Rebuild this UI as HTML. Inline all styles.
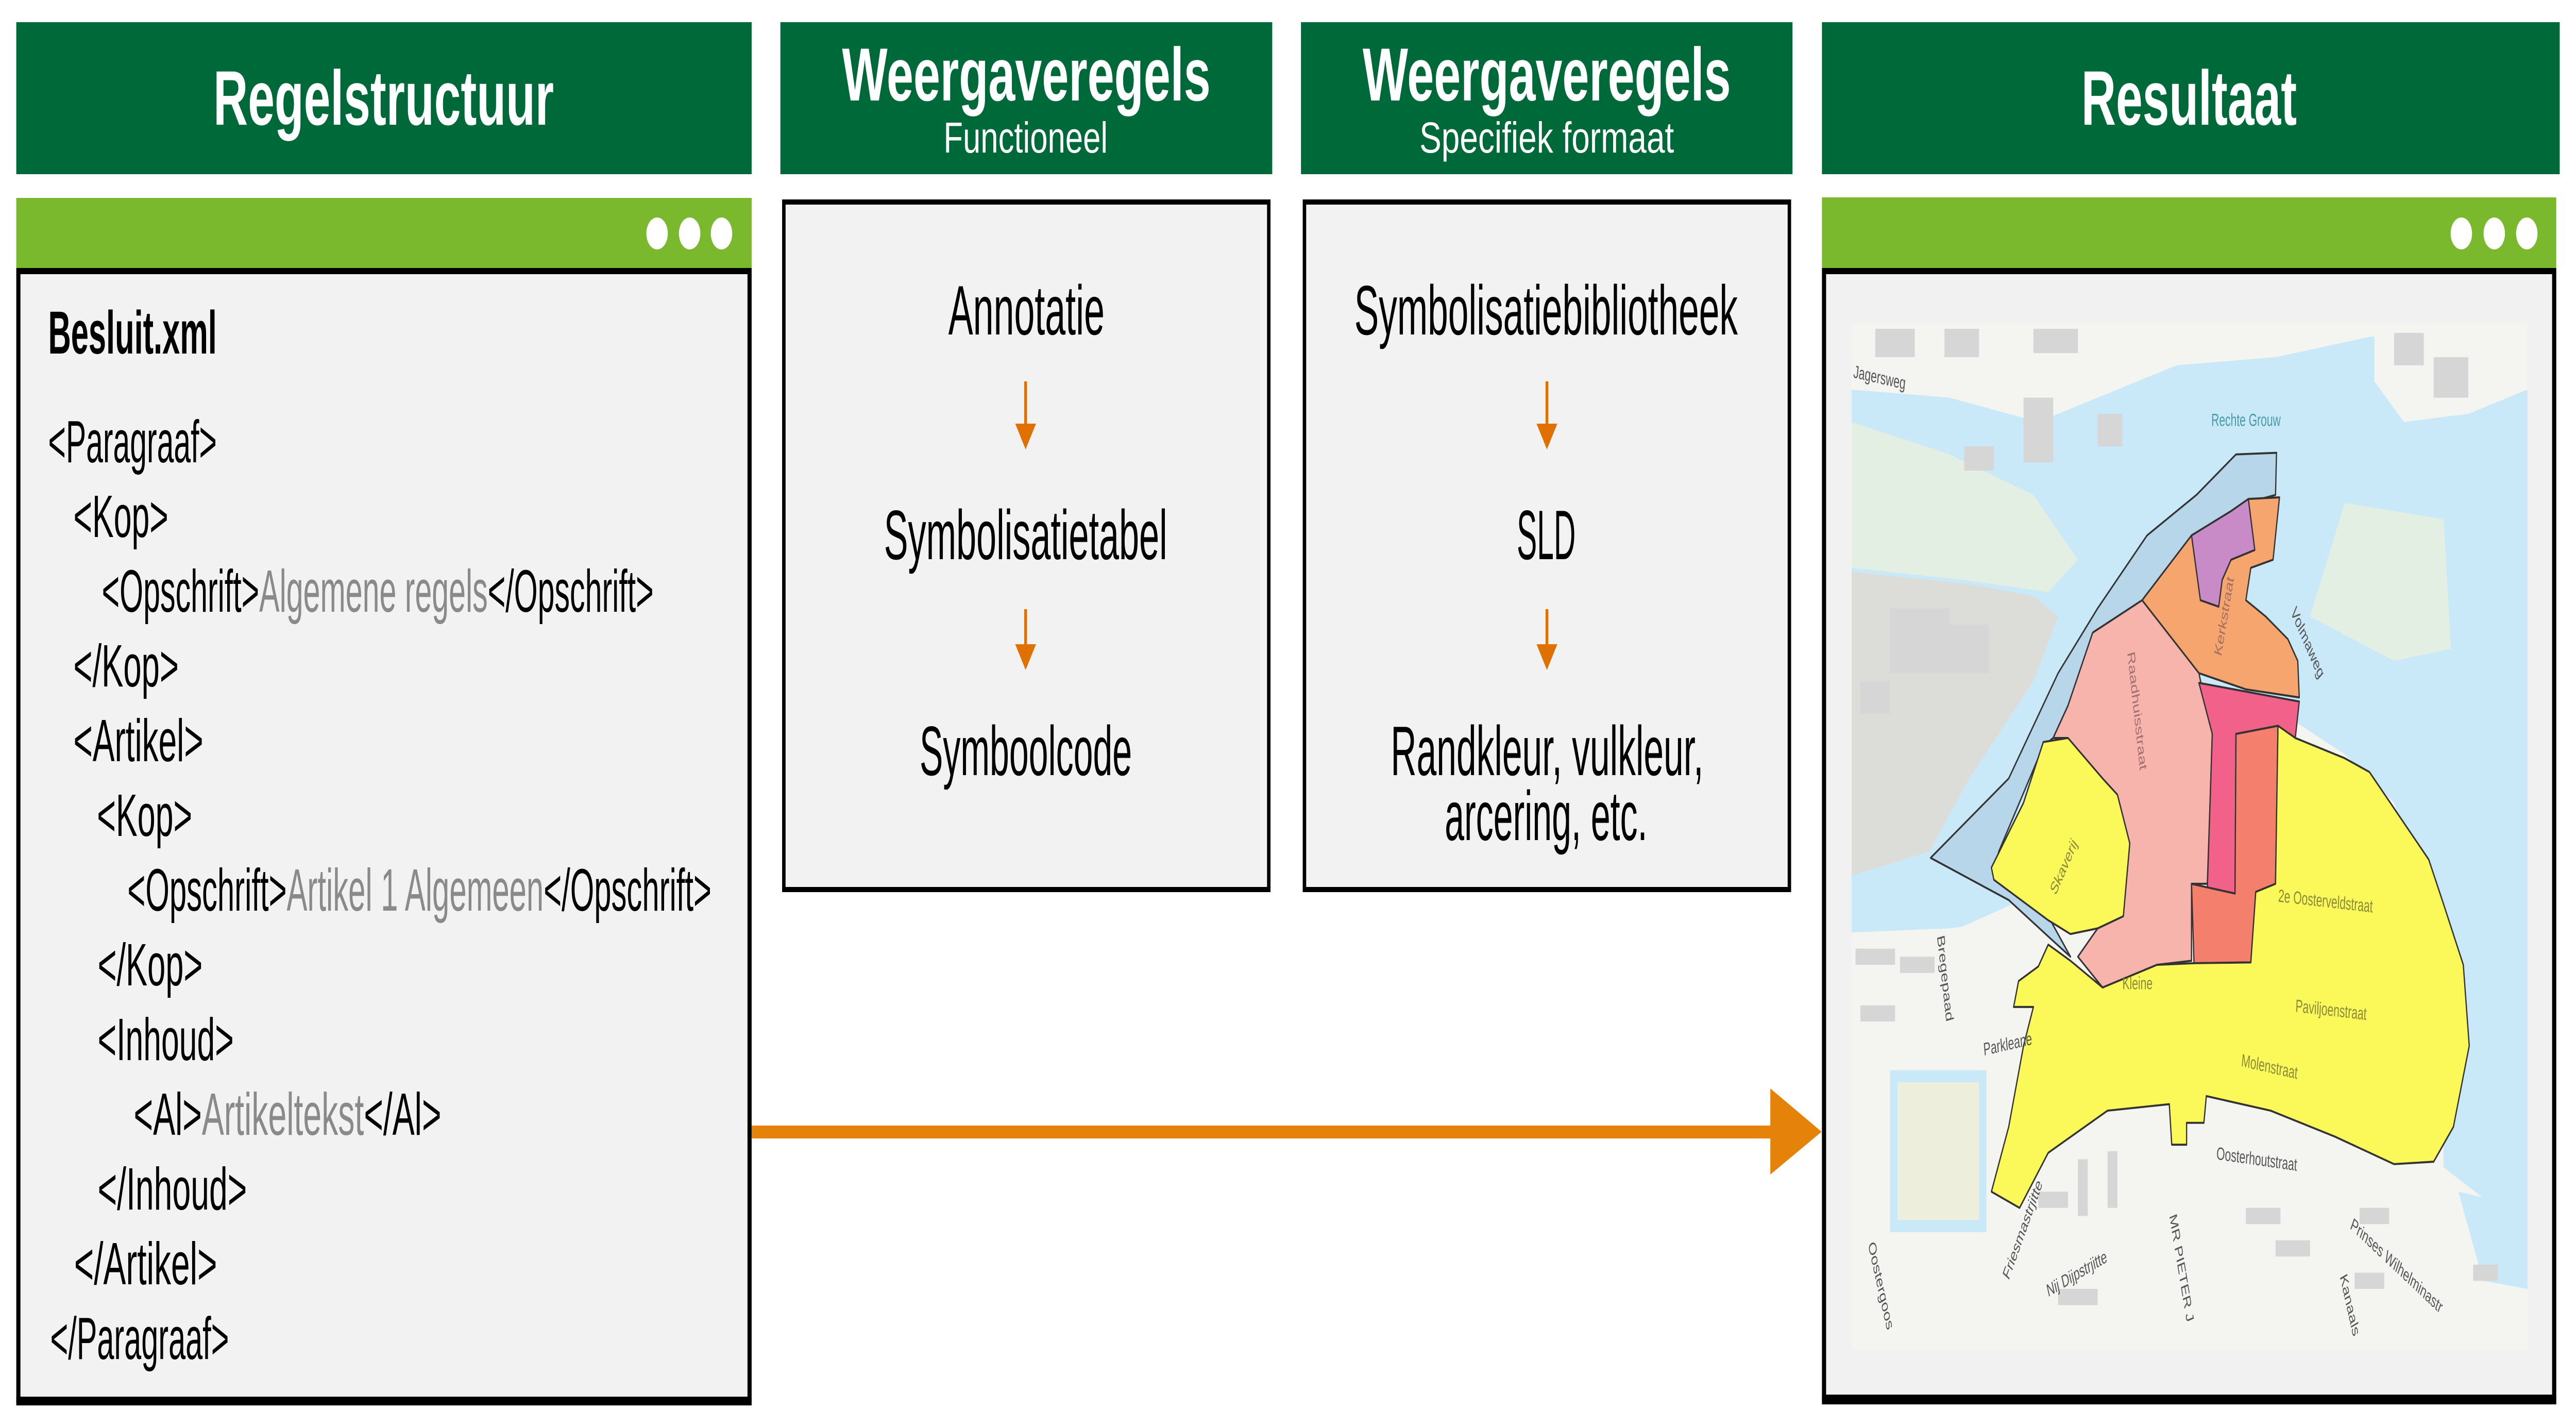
<!DOCTYPE html>
<html><head><meta charset="utf-8">
<style>
html,body{margin:0;padding:0;background:#fff;width:100%;height:100%;overflow:hidden;}
svg.root{display:block;position:absolute;left:0;top:0;width:100vw;height:100vh;}
text{font-family:"Liberation Sans",sans-serif;}
</style></head>
<body>
<svg class="root" viewBox="0 0 7437 2765" preserveAspectRatio="none" xmlns="http://www.w3.org/2000/svg" overflow="hidden">
<rect width="7437" height="2765" fill="#fff"/>

<rect x="47" y="43" width="2123" height="295" fill="#00693a"/>
<rect x="2253" y="43" width="1420" height="295" fill="#00693a"/>
<rect x="3756" y="43" width="1419" height="295" fill="#00693a"/>
<rect x="5260" y="43" width="2130" height="295" fill="#00693a"/>
<g fill="#fff" font-weight="bold">
<text x="616" y="242" font-size="150" textLength="983" lengthAdjust="spacingAndGlyphs">Regelstructuur</text>
<text x="2431" y="195" font-size="146" textLength="1064" lengthAdjust="spacingAndGlyphs">Weergaveregels</text>
<text x="3934" y="195" font-size="146" textLength="1063" lengthAdjust="spacingAndGlyphs">Weergaveregels</text>
<text x="6009" y="242" font-size="150" textLength="622" lengthAdjust="spacingAndGlyphs">Resultaat</text>
</g>
<g fill="#fff">
<text x="2724" y="296" font-size="84" textLength="474" lengthAdjust="spacingAndGlyphs">Functioneel</text>
<text x="4098" y="296" font-size="84" textLength="735" lengthAdjust="spacingAndGlyphs">Specifiek formaat</text>
</g>

<rect x="47" y="384" width="2123" height="137" fill="#7ab92d"/>
<circle cx="1897" cy="453" r="31" fill="#fff"/>
<circle cx="1991" cy="453" r="31" fill="#fff"/>
<circle cx="2083" cy="453" r="31" fill="#fff"/>
<rect x="53" y="526" width="2111" height="2190" fill="#f2f2f2" stroke="#000" stroke-width="12"/>
<rect x="47" y="2712" width="2123" height="15" fill="#000"/>

<text x="139" y="686" font-size="118" font-weight="bold" textLength="487" lengthAdjust="spacingAndGlyphs">Besluit.xml</text>
<g font-size="116" fill="#000">
<text x="139" y="897" textLength="487" lengthAdjust="spacingAndGlyphs">&lt;Paragraaf&gt;</text>
<text x="212" y="1042" textLength="274" lengthAdjust="spacingAndGlyphs">&lt;Kop&gt;</text>
<text x="294" y="1187" textLength="1593" lengthAdjust="spacingAndGlyphs">&lt;Opschrift&gt;<tspan fill="#8a8a8a">Algemene regels</tspan>&lt;/Opschrift&gt;</text>
<text x="212" y="1332" textLength="304" lengthAdjust="spacingAndGlyphs">&lt;/Kop&gt;</text>
<text x="212" y="1477" textLength="375" lengthAdjust="spacingAndGlyphs">&lt;Artikel&gt;</text>
<text x="280" y="1622" textLength="275" lengthAdjust="spacingAndGlyphs">&lt;Kop&gt;</text>
<text x="368" y="1767" textLength="1686" lengthAdjust="spacingAndGlyphs">&lt;Opschrift&gt;<tspan fill="#8a8a8a">Artikel 1 Algemeen</tspan>&lt;/Opschrift&gt;</text>
<text x="282" y="1912" textLength="303" lengthAdjust="spacingAndGlyphs">&lt;/Kop&gt;</text>
<text x="282" y="2057" textLength="393" lengthAdjust="spacingAndGlyphs">&lt;Inhoud&gt;</text>
<text x="386" y="2202" textLength="888" lengthAdjust="spacingAndGlyphs">&lt;Al&gt;<tspan fill="#8a8a8a">Artikeltekst</tspan>&lt;/Al&gt;</text>
<text x="282" y="2347" textLength="431" lengthAdjust="spacingAndGlyphs">&lt;/Inhoud&gt;</text>
<text x="214" y="2492" textLength="413" lengthAdjust="spacingAndGlyphs">&lt;/Artikel&gt;</text>
<text x="145" y="2637" textLength="516" lengthAdjust="spacingAndGlyphs">&lt;/Paragraaf&gt;</text>
</g>

<rect x="2263" y="392" width="1400" height="1334" fill="#f2f2f2" stroke="#000" stroke-width="10"/>
<rect x="3766" y="392" width="1400" height="1334" fill="#f2f2f2" stroke="#000" stroke-width="10"/>
<g font-size="136" fill="#000">
<text x="2738" y="649" textLength="451" lengthAdjust="spacingAndGlyphs">Annotatie</text>
<text x="2552" y="1085" textLength="818" lengthAdjust="spacingAndGlyphs">Symbolisatietabel</text>
<text x="2655" y="1504" textLength="613" lengthAdjust="spacingAndGlyphs">Symboolcode</text>
<text x="3910" y="649" textLength="1107" lengthAdjust="spacingAndGlyphs">Symbolisatiebibliotheek</text>
<text x="4379" y="1085" textLength="170" lengthAdjust="spacingAndGlyphs">SLD</text>
<text x="4015" y="1504" textLength="903" lengthAdjust="spacingAndGlyphs">Randkleur, vulkleur,</text>
<text x="4171" y="1630" textLength="585" lengthAdjust="spacingAndGlyphs">arcering, etc.</text>
</g>
<g fill="#e07000" stroke="#e07000">
<line x1="2961" y1="740" x2="2961" y2="830" stroke-width="8"/>
<polygon points="2931,822 2991,822 2961,872" stroke="none"/>
<line x1="2961" y1="1182" x2="2961" y2="1260" stroke-width="8"/>
<polygon points="2931,1250 2991,1250 2961,1300" stroke="none"/>
<line x1="4466" y1="740" x2="4466" y2="830" stroke-width="8"/>
<polygon points="4436,822 4496,822 4466,872" stroke="none"/>
<line x1="4466" y1="1182" x2="4466" y2="1260" stroke-width="8"/>
<polygon points="4436,1250 4496,1250 4466,1300" stroke="none"/>
</g>

<rect x="2170" y="2184" width="2945" height="25" fill="#e5820a"/>
<polygon points="5111,2112 5259,2196 5111,2279" fill="#e5820a"/>

<rect x="5260" y="383" width="2120" height="137" fill="#7ab92d"/>
<circle cx="7106" cy="453" r="31" fill="#fff"/>
<circle cx="7201" cy="453" r="31" fill="#fff"/>
<circle cx="7295" cy="453" r="31" fill="#fff"/>
<rect x="5266" y="526" width="2108" height="2186" fill="#f1f1f1" stroke="#000" stroke-width="12"/>
<rect x="5260" y="2710" width="2120" height="15" fill="#000"/>

<g transform="translate(5200 300) scale(1.4266 1.5721)">
<defs><clipPath id="mc"><rect x="102" y="208" width="1368" height="1267"/></clipPath></defs>
<g clip-path="url(#mc)">
<rect x="102" y="208" width="1368" height="1267" fill="#f4f4f1"/>
<path d="M102,290 L300,300 L480,330 L600,300 L760,260 L960,250 L1150,225 L1470,208 L1470,1340 L1300,1250 L1300,1000 L1200,800 L1100,740 L1000,700 L900,690 L700,720 L520,900 L300,960 L102,960 Z" fill="#c9e8f8"/>
<path d="M102,330 L300,370 L470,420 L560,500 L500,540 L330,525 L102,510 Z" fill="#e3efe3"/>
<path d="M102,515 L340,530 L470,545 L520,570 L470,650 L340,770 L260,860 L102,890 Z" fill="#dcdcd9"/>
<path d="M1100,430 L1300,450 L1315,610 L1200,625 L1030,570 Z" fill="#e3efe3"/>
<path d="M102,208 L1000,208 L1000,245 L760,255 L600,290 L480,320 L300,290 L102,280 Z" fill="#f4f4f1"/>
<path d="M1160,208 L1470,208 L1470,290 L1350,320 L1220,330 L1160,280 Z" fill="#f4f4f1"/>
<path d="M102,960 L300,955 L500,940 L700,990 L1000,1200 L1100,1220 L1300,1250 L1470,1330 L1470,1475 L102,1475 Z" fill="#f4f4f1"/>
<path d="M1330,1280 L1470,1300 L1470,1400 L1380,1390 Z" fill="#c9e8f8"/>
<rect x="180" y="1130" width="195" height="200" fill="#c9e8f8"/>
<rect x="195" y="1145" width="165" height="170" fill="#eeeedc"/>
<g fill="#d6d6d6">
<rect x="150" y="215" width="80" height="35"/><rect x="290" y="215" width="70" height="35"/><rect x="470" y="215" width="90" height="30"/>
<rect x="450" y="300" width="60" height="80"/><rect x="600" y="320" width="50" height="40"/><rect x="330" y="360" width="60" height="30"/>
<rect x="180" y="560" width="120" height="80"/><rect x="300" y="580" width="80" height="60"/><rect x="120" y="650" width="60" height="40"/>
<rect x="1200" y="220" width="60" height="40"/><rect x="1280" y="250" width="70" height="50"/>
<rect x="110" y="980" width="80" height="20"/><rect x="200" y="990" width="70" height="20"/><rect x="120" y="1050" width="70" height="20"/>
<rect x="480" y="1280" width="60" height="20"/><rect x="560" y="1240" width="20" height="70"/><rect x="620" y="1230" width="20" height="70"/>
<rect x="900" y="1300" width="70" height="20"/><rect x="960" y="1340" width="70" height="20"/><rect x="1130" y="1300" width="60" height="20"/>
<rect x="1120" y="1380" width="60" height="20"/><rect x="1360" y="1370" width="50" height="20"/><rect x="520" y="1400" width="80" height="20"/>
</g>
<g stroke="#333" stroke-width="2.5" stroke-linejoin="round">
<path d="M262,868 L420,770 L520,640 L600,560 L700,470 L800,420 L880,370 L962,368 L960,420 L900,430 L790,470 L690,550 L590,590 L540,680 L510,720 L490,730 L400,860 L390,885 L500,940 L545,990 L500,965 L420,920 Z" fill="#b8d6ea"/>
<path d="M690,550 L790,470 L870,440 L905,425 L968,423 L955,500 L910,510 L900,550 L940,570 L985,598 L1005,625 L1008,670 L900,660 L805,640 Z" fill="#f5a56d"/>
<path d="M790,470 L870,440 L905,425 L918,488 L870,500 L852,525 L845,558 L808,550 Z" fill="#c98bc7"/>
<path d="M590,590 L690,550 L805,640 L810,655 L832,715 L822,900 L790,900 L790,995 L720,1000 L610,1028 L560,990 L600,955 L652,940 L665,850 L640,790 L610,770 L540,720 L510,720 L540,680 Z" fill="#f6b4ad"/>
<path d="M805,652 L1008,675 L1000,720 L965,705 L880,715 L878,912 L822,905 L832,715 Z" fill="#f1618a"/>
<path d="M880,715 L965,705 L960,900 L920,910 L910,997 L795,998 L790,900 L878,912 Z" fill="#f47f6c"/>
<path d="M965,705 L1000,720 L1100,745 L1150,762 L1270,870 L1300,925 L1340,1000 L1352,1100 L1320,1200 L1280,1243 L1200,1246 L1080,1212 L950,1180 L820,1162 L815,1195 L780,1195 L780,1222 L750,1222 L745,1172 L620,1180 L500,1232 L442,1300 L385,1280 L420,1200 L450,1100 L470,1052 L430,1052 L440,1020 L480,1002 L500,975 L545,995 L610,1028 L720,1000 L795,998 L910,997 L920,910 L960,900 Z" fill="#fbf85a"/>
<path d="M490,725 L540,720 L610,770 L640,790 L665,850 L652,940 L600,955 L545,962 L500,945 L390,895 L385,880 L450,800 Z" fill="#fbf85a"/>
</g>
<g font-size="22" fill="#555">
<text x="830" y="335" fill="#4a9aa5">Rechte Grouw</text>
<text x="105" y="275" transform="rotate(8 105 275)">Jagersweg</text>
<text x="370" y="1112" transform="rotate(-8 370 1112)">Parkleane</text>
<text x="840" y="1240" transform="rotate(5 840 1240)">Oosterhoutstraat</text>
<text x="965" y="922" fill="#8a8a3a" transform="rotate(4 965 922)">2e Oosterveldstraat</text>
<text x="1000" y="1058" fill="#8a8a3a" transform="rotate(4 1000 1058)">Paviljoenstraat</text>
<text x="890" y="1125" fill="#8a8a3a" transform="rotate(8 890 1125)">Molenstraat</text>
<text x="650" y="1030" fill="#8a8a3a">Kleine</text>
<text x="990" y="565" transform="rotate(55 990 565)">Volmaweg</text>
<text x="275" y="965" transform="rotate(80 275 965)">Bregepaad</text>
<text x="420" y="1390" transform="rotate(-60 420 1390)">Friesmastrjitte</text>
<text x="500" y="1410" transform="rotate(-20 500 1410)">Nij Dijpstrjitte</text>
<text x="745" y="1310" transform="rotate(75 745 1310)">MR PIETER J</text>
<text x="1110" y="1325" transform="rotate(30 1110 1325)">Prinses Wilhelminastr</text>
<text x="1090" y="1385" transform="rotate(70 1090 1385)">Kanaals</text>
<text x="135" y="1345" transform="rotate(70 135 1345)">Oostergoos</text>
<text x="515" y="915" fill="#8a8a3a" transform="rotate(-55 515 915)">Skaverij</text>
<text x="660" y="615" fill="#a07070" transform="rotate(80 660 615)">Raadhuisstraat</text>
<text x="850" y="620" fill="#a07060" transform="rotate(-75 850 620)">Kerkstraat</text>
</g>
</g>
</g>
</svg>
</body></html>
